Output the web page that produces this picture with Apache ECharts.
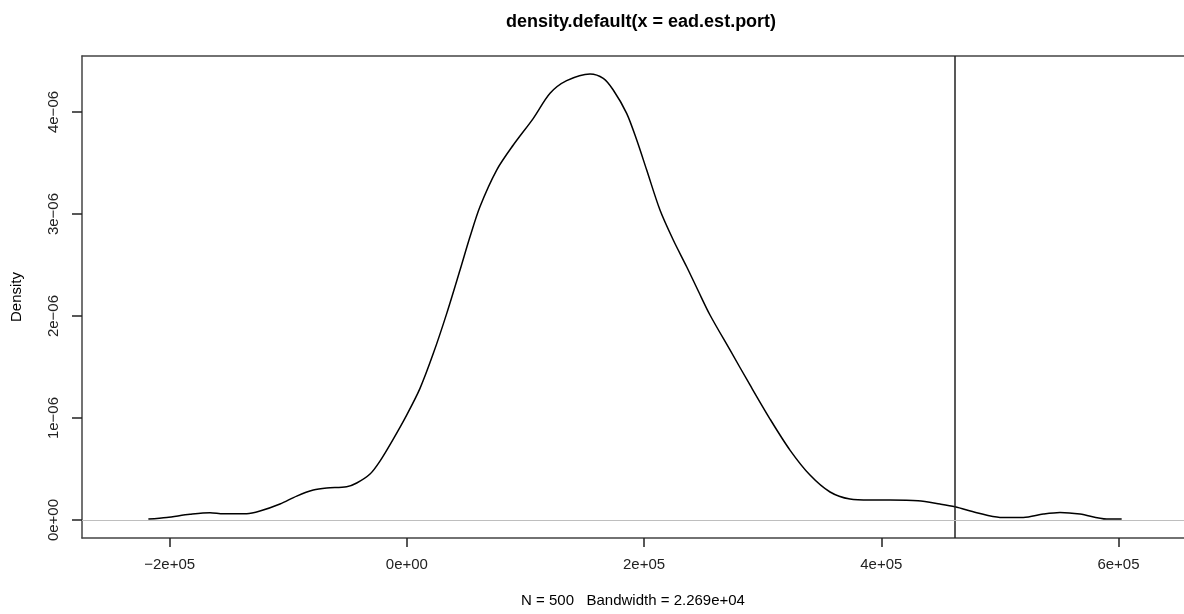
<!DOCTYPE html>
<html>
<head>
<meta charset="utf-8">
<script src="https://cdn.jsdelivr.net/npm/echarts@6/dist/echarts.min.js"></script>
<style>
html,body{margin:0;padding:0;background:#fff;}
#chart{width:1184px;height:614px;}
</style>
</head>
<body>
<div id="chart"></div>
<script>
// Density curve (x, density)
const densX = [-218000,-202500,-182900,-166000,-154800,-135100,-123900,-107000,-92900,-78900,-67600,-50800,-42300,-31100,-22700,-11500,-200,11050,22300,33600,44800,53200,61600,75700,89700,106600,120700,134700,154400,165600,174000,185300,193800,202200,213400,224600,235900,245700,255570,272440,289300,306200,323000,339900,356800,373600,390500,407400,431000,449500,462200,480500,500100,519800,536600,550700,567600,590100,602700];
const densY = [0.010e-6,0.026e-6,0.056e-6,0.072e-6,0.062e-6,0.062e-6,0.088e-6,0.157e-6,0.235e-6,0.294e-6,0.314e-6,0.326e-6,0.363e-6,0.451e-6,0.578e-6,0.794e-6,1.029e-6,1.291e-6,1.634e-6,2.026e-6,2.451e-6,2.777e-6,3.072e-6,3.431e-6,3.676e-6,3.938e-6,4.183e-6,4.307e-6,4.373e-6,4.330e-6,4.216e-6,3.987e-6,3.725e-6,3.431e-6,3.039e-6,2.745e-6,2.483e-6,2.245e-6,2.010e-6,1.667e-6,1.324e-6,0.990e-6,0.686e-6,0.441e-6,0.275e-6,0.206e-6,0.196e-6,0.196e-6,0.189e-6,0.157e-6,0.130e-6,0.072e-6,0.026e-6,0.026e-6,0.059e-6,0.075e-6,0.059e-6,0.010e-6,0.010e-6];
const xTicks = [-200000, 0, 200000, 400000, 600000];
const yTicks = [0, 1e-6, 2e-6, 3e-6, 4e-6];
const vLineX = [462000];
const hLineY = [0];
const titleText = 'density.default(x = ead.est.port)';
const xLabel = 'N = 500   Bandwidth = 2.269e+04';
const yLabel = 'Density';

function rfmt(v){
  if (v === 0) return '0e+00';
  const s = v < 0 ? '\u2212' : '';
  const a = Math.abs(v);
  const e = Math.floor(Math.log10(a) + 1e-9);
  const m = Math.round(a / Math.pow(10, e));
  const es = (e < 0 ? '\u2212' : '+') + String(Math.abs(e)).padStart(2, '0');
  return s + m + 'e' + es;
}

const FONT = 'Liberation Sans, Arial, sans-serif';
const FRAME = {color: '#444', width: 1.5};
const XMIN = -273960, XMAX = 655260;
const chart = echarts.init(document.getElementById('chart'), null, {renderer: 'canvas'});
const data = densX.map((x, i) => [x, densY[i]]);

chart.setOption({
  animation: false,
  backgroundColor: '#fff',
  title: {
    text: titleText,
    left: 636, top: 8, textAlign: 'center',
    textStyle: {fontFamily: FONT, fontSize: 18, fontWeight: 'bold', color: '#000'}
  },
  grid: {left: 82, top: 56, right: 0, height: 482},
  xAxis: [{
    type: 'value', min: XMIN, max: XMAX, position: 'bottom',
    name: xLabel, nameLocation: 'middle', nameGap: 55,
    nameTextStyle: {fontFamily: FONT, fontSize: 15, color: '#000'},
    axisLine: {show: true, onZero: false, lineStyle: FRAME},
    splitLine: {show: false},
    axisTick: {show: true, length: 9, lineStyle: {color: '#222', width: 1.5}, customValues: xTicks},
    axisLabel: {fontFamily: FONT, fontSize: 15, color: '#222', margin: 19, customValues: xTicks, formatter: rfmt}
  }, {
    type: 'value', min: XMIN, max: XMAX, position: 'top',
    axisLine: {show: true, onZero: false, lineStyle: FRAME},
    axisTick: {show: false}, axisLabel: {show: false}, splitLine: {show: false}
  }],
  yAxis: {
    type: 'value', min: -0.176e-6, max: 4.549e-6,
    name: yLabel, nameLocation: 'middle', nameGap: 58, nameRotate: 90,
    nameTextStyle: {fontFamily: FONT, fontSize: 15, color: '#000'},
    axisLine: {show: true, onZero: false, lineStyle: FRAME},
    splitLine: {show: false},
    axisTick: {show: true, length: 10, lineStyle: {color: '#222', width: 1.5}, customValues: yTicks},
    axisLabel: {fontFamily: FONT, fontSize: 15, color: '#222', margin: 21, rotate: 90, customValues: yTicks, formatter: rfmt}
  },
  series: [
    {
      type: 'line', data: data, showSymbol: false, smooth: 0.3,
      xAxisIndex: 0,
      lineStyle: {color: '#000', width: 1.5},
      silent: true, z: 3,
      markLine: {
        symbol: 'none', silent: true, label: {show: false}, animation: false,
        data: [
          {xAxis: vLineX[0], lineStyle: {color: '#222', width: 1.5, type: 'solid'}},
          {yAxis: hLineY[0], lineStyle: {color: '#bebebe', width: 1.2, type: 'solid'}}
        ]
      }
    }
  ]
});
</script>
</body>
</html>
